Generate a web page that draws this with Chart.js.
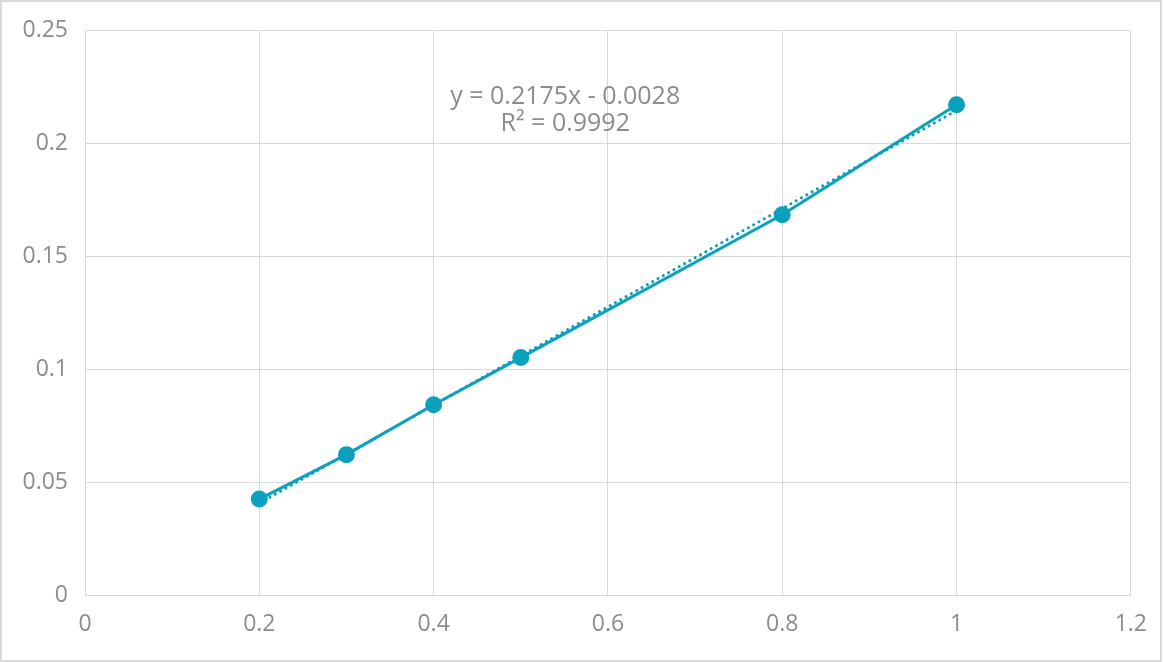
<!DOCTYPE html>
<html>
<head>
<meta charset="utf-8">
<script src="https://cdn.jsdelivr.net/npm/chart.js@4/dist/chart.umd.min.js"></script>
<style>
    html, body { margin: 0; padding: 0; background: #fff; }
    #wrap { width: 1163px; height: 662px; position: relative; }
</style>
</head>
<body>
<div id="wrap"><canvas id="chart"></canvas></div>
<script>
// measured points
const xValues = [0.2, 0.3, 0.4, 0.5, 0.8, 1];
const yValues = [0.0425, 0.0622, 0.0843, 0.1052, 0.1685, 0.2172];

// linear trendline end points
const trendX = [0.2, 1];
const trendY = [0.0407, 0.2147];

const trendLabel = ["y = 0.2175x - 0.0028", "R² = 0.9992"];

const lineColor = "#0aa1be";
const gridColor = "#d9d9d9";
const textColor = "#8c8c8c";
const fontFamily = "'Open Sans', 'Noto Sans', sans-serif";
const font = { family: fontFamily, size: 23 };

function toPoints(xs, ys) {
    return xs.map((x, i) => ({ x: x, y: ys[i] }));
}

function fmt(v) {
    return String(+v.toFixed(4));
}

const extras = {
    id: "extras",
    afterDatasetsDraw(chart) {
        const ctx = chart.ctx;
        const xs = chart.scales.x;
        const ys = chart.scales.y;
        ctx.save();
        ctx.fillStyle = textColor;
        ctx.font = "25px " + fontFamily;
        ctx.textAlign = "center";
        ctx.textBaseline = "middle";
        const cx = xs.getPixelForValue(0.551);
        ctx.fillText(trendLabel[0], cx, ys.getPixelForValue(0.2206));
        ctx.fillText(trendLabel[1], cx, ys.getPixelForValue(0.2088));
        ctx.restore();
    },
    afterDraw(chart) {
        const ctx = chart.ctx;
        ctx.save();
        ctx.strokeStyle = gridColor;
        ctx.lineWidth = 2;
        ctx.strokeRect(1, 1, chart.width - 3, chart.height - 2);
        ctx.restore();
    }
};

new Chart(document.getElementById("chart"), {
    type: "scatter",
    data: {
        datasets: [
            {
                label: "data",
                data: toPoints(xValues, yValues),
                showLine: true,
                borderColor: lineColor,
                backgroundColor: lineColor,
                borderWidth: 3,
                pointRadius: 7,
                pointHoverRadius: 7,
                order: 1
            },
            {
                label: "trend",
                data: toPoints(trendX, trendY),
                showLine: true,
                borderColor: lineColor,
                borderWidth: 3,
                borderDash: [0.1, 6],
                borderCapStyle: "round",
                pointRadius: 0,
                order: 2
            }
        ]
    },
    options: {
        responsive: true,
        maintainAspectRatio: false,
        animation: false,
        layout: {
            padding: { left: 0, top: 30, right: 32, bottom: 0 }
        },
        plugins: {
            legend: { display: false },
            tooltip: { enabled: false }
        },
        scales: {
            x: {
                type: "linear",
                min: 0,
                max: 1.2,
                ticks: { stepSize: 0.2, color: textColor, font: font, padding: 16, callback: fmt },
                grid: { color: gridColor, drawTicks: false },
                border: { color: gridColor },
                afterFit: (s) => { s.height = 67; }
            },
            y: {
                min: 0,
                max: 0.25,
                ticks: { stepSize: 0.05, color: textColor, font: font, padding: 17, callback: fmt },
                grid: { color: gridColor, drawTicks: false },
                border: { color: gridColor },
                afterFit: (s) => { s.width = 85; }
            }
        }
    },
    plugins: [extras]
});
</script>
</body>
</html>
